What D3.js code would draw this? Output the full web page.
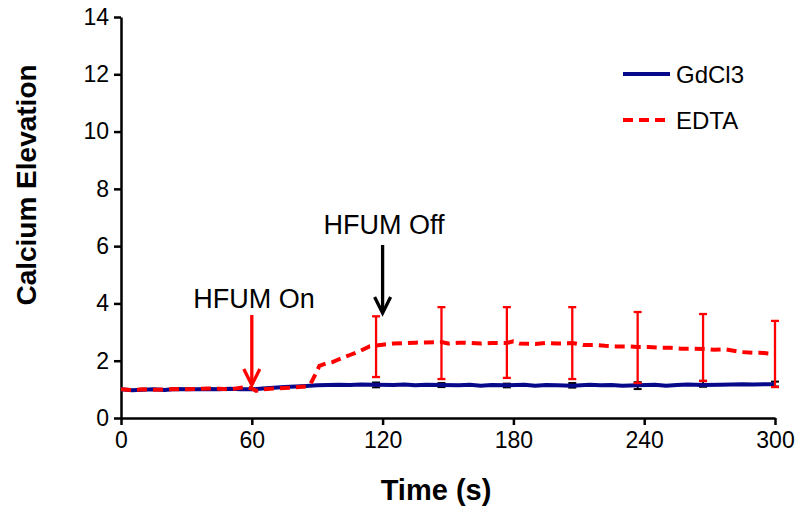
<!DOCTYPE html>
<html>
<head>
<meta charset="utf-8">
<script src="https://cdn.jsdelivr.net/npm/d3@7"></script>
<style>
  body { margin: 0; background: #fff; }
  svg { font-family: Arial, "Liberation Sans", sans-serif; }
</style>
</head>
<body>
<svg id="chart" width="800" height="515"></svg>
<script>
// time points (s) and mean values
const edtaTime = [0, 5, 10, 15, 20, 25, 30, 35, 40, 45, 50, 55, 58, 60, 62, 65, 70, 75, 80, 85, 87, 89, 91, 94, 97, 100, 105, 110, 114, 117, 120, 125, 130, 135, 140, 147, 150, 155, 160, 165, 170, 177, 180, 183, 190, 195, 200, 207, 212, 217, 222, 227, 232, 237, 242, 247, 252, 257, 262, 267, 272, 277, 281, 285, 290, 295, 300];
const edtaVals = [1.0, 0.98, 1.0, 0.99, 1.0, 1.01, 1.0, 1.02, 1.03, 1.02, 1.0, 1.06, 1.07, 1.03, 0.95, 1.0, 1.03, 1.05, 1.07, 1.1, 1.2, 1.5, 1.82, 1.9, 1.95, 2.05, 2.2, 2.35, 2.5, 2.53, 2.56, 2.6, 2.61, 2.63, 2.64, 2.65, 2.6, 2.63, 2.62, 2.6, 2.62, 2.62, 2.68, 2.6, 2.58, 2.62, 2.6, 2.62, 2.55, 2.55, 2.52, 2.5, 2.5, 2.48, 2.48, 2.45, 2.45, 2.42, 2.42, 2.41, 2.38, 2.4, 2.35, 2.3, 2.28, 2.27, 2.23];

const gdTime = [0, 5, 10, 15, 20, 25, 30, 35, 40, 45, 50, 55, 60, 65, 70, 75, 80, 85, 90, 95, 100, 105, 110, 117, 125, 130, 135, 140, 147, 155, 160, 165, 170, 177, 185, 190, 195, 200, 207, 215, 220, 225, 230, 237, 245, 250, 255, 260, 267, 275, 280, 285, 290, 300];
const gdVals = [1.0, 0.97, 0.99, 1.0, 0.98, 1.01, 1.0, 1.0, 1.01, 1.0, 1.02, 1.0, 1.0, 1.03, 1.06, 1.08, 1.1, 1.12, 1.14, 1.15, 1.16, 1.15, 1.17, 1.16, 1.15, 1.17, 1.14, 1.16, 1.15, 1.14, 1.16, 1.13, 1.15, 1.14, 1.16, 1.13, 1.15, 1.14, 1.13, 1.16, 1.14, 1.15, 1.13, 1.14, 1.16, 1.13, 1.15, 1.17, 1.15, 1.16, 1.17, 1.18, 1.17, 1.18];

// error bars [time, low, high]
const edtaErr = [[117, 1.43, 3.55], [147, 1.36, 3.87], [177, 1.4, 3.87], [207, 1.36, 3.87], [237, 1.22, 3.7], [267, 1.29, 3.63], [300, 1.08, 3.39]];
const gdErr = [[117, 1.07, 1.24], [147, 1.08, 1.22], [177, 1.07, 1.2], [207, 1.06, 1.22], [237, 1.01, 1.25], [267, 1.09, 1.3], [300, 1.1, 1.27]];

const xTicks = [0, 60, 120, 180, 240, 300];
const yTicks = [0, 2, 4, 6, 8, 10, 12, 14];

const blue = '#08088a';
const red = '#ff0000';

const svg = d3.select('#chart');

const x = d3.scaleLinear().domain([0, 300]).range([121, 775]);
const y = d3.scaleLinear().domain([0, 14]).range([418, 17]);

// axes
const xAxis = svg.append('g')
    .attr('transform', 'translate(0,' + y(0) + ')')
    .call(d3.axisBottom(x).tickValues(xTicks).tickSize(7).tickPadding(7).tickSizeOuter(0));
const yAxis = svg.append('g')
    .attr('transform', 'translate(' + x(0) + ',0)')
    .call(d3.axisLeft(y).tickValues(yTicks).tickSize(7).tickPadding(5).tickSizeOuter(0));

[xAxis, yAxis].forEach(a => {
  a.select('.domain').attr('stroke', '#000').attr('stroke-width', 2.5);
  a.selectAll('.tick line').attr('stroke', '#000').attr('stroke-width', 2.5);
  a.selectAll('.tick text').attr('fill', '#000').style('font-size', '23px')
      .style('font-family', 'Arial, "Liberation Sans", sans-serif');
});

// error bars
function errBars(data, color, width) {
  const g = svg.append('g').attr('stroke', color).attr('stroke-width', width);
  data.forEach(d => {
    g.append('line').attr('x1', x(d[0])).attr('x2', x(d[0])).attr('y1', y(d[1])).attr('y2', y(d[2]));
    g.append('line').attr('x1', x(d[0]) - 4).attr('x2', x(d[0]) + 4).attr('y1', y(d[1])).attr('y2', y(d[1]));
    g.append('line').attr('x1', x(d[0]) - 4).attr('x2', x(d[0]) + 4).attr('y1', y(d[2])).attr('y2', y(d[2]));
  });
}
errBars(gdErr, '#000', 2);

const line = d3.line().x(d => x(d[0])).y(d => y(d[1]));

svg.append('path')
    .datum(gdTime.map((t, i) => [t, gdVals[i]]))
    .attr('fill', 'none')
    .attr('stroke', blue)
    .attr('stroke-width', 4)
    .attr('stroke-linejoin', 'round')
    .attr('d', line);

errBars(edtaErr, red, 2.3);

svg.append('path')
    .datum(edtaTime.map((t, i) => [t, edtaVals[i]]))
    .attr('fill', 'none')
    .attr('stroke', red)
    .attr('stroke-width', 4)
    .attr('stroke-dasharray', '10,6')
    .attr('d', line);

// arrows
function arrow(xv, y1, y2, color) {
  svg.append('line').attr('x1', x(xv)).attr('x2', x(xv)).attr('y1', y1).attr('y2', y2 - 3)
      .attr('stroke', color).attr('stroke-width', 3.3);
  svg.append('path')
      .attr('d', `M${x(xv) - 8},${y2 - 16} L${x(xv)},${y2} L${x(xv) + 8},${y2 - 16}`)
      .attr('fill', 'none').attr('stroke', color).attr('stroke-width', 3.3);
}
arrow(60, 315, 385, red);
arrow(120, 245, 313, '#000');

svg.append('text').attr('x', 254).attr('y', 308).attr('text-anchor', 'middle')
    .style('font-size', '27px').text('HFUM On');
svg.append('text').attr('x', 384).attr('y', 234).attr('text-anchor', 'middle')
    .style('font-size', '27px').text('HFUM Off');

// legend
const legend = [['GdCl3', blue, null, 74], ['EDTA', red, '10,6', 120]];
legend.forEach(l => {
  svg.append('line').attr('x1', 623).attr('x2', 670).attr('y1', l[3]).attr('y2', l[3])
      .attr('stroke', l[1]).attr('stroke-width', 4).attr('stroke-dasharray', l[2]);
  svg.append('text').attr('x', 676).attr('y', l[3] + 9).style('font-size', '24px').text(l[0]);
});

// axis titles
svg.append('text').attr('x', 436).attr('y', 500).attr('text-anchor', 'middle')
    .style('font-size', '29px').style('font-weight', 'bold').text('Time (s)');
svg.append('text').attr('transform', 'translate(36,185) rotate(-90)').attr('text-anchor', 'middle')
    .style('font-size', '28px').style('font-weight', 'bold').text('Calcium Elevation');
</script>
</body>
</html>
